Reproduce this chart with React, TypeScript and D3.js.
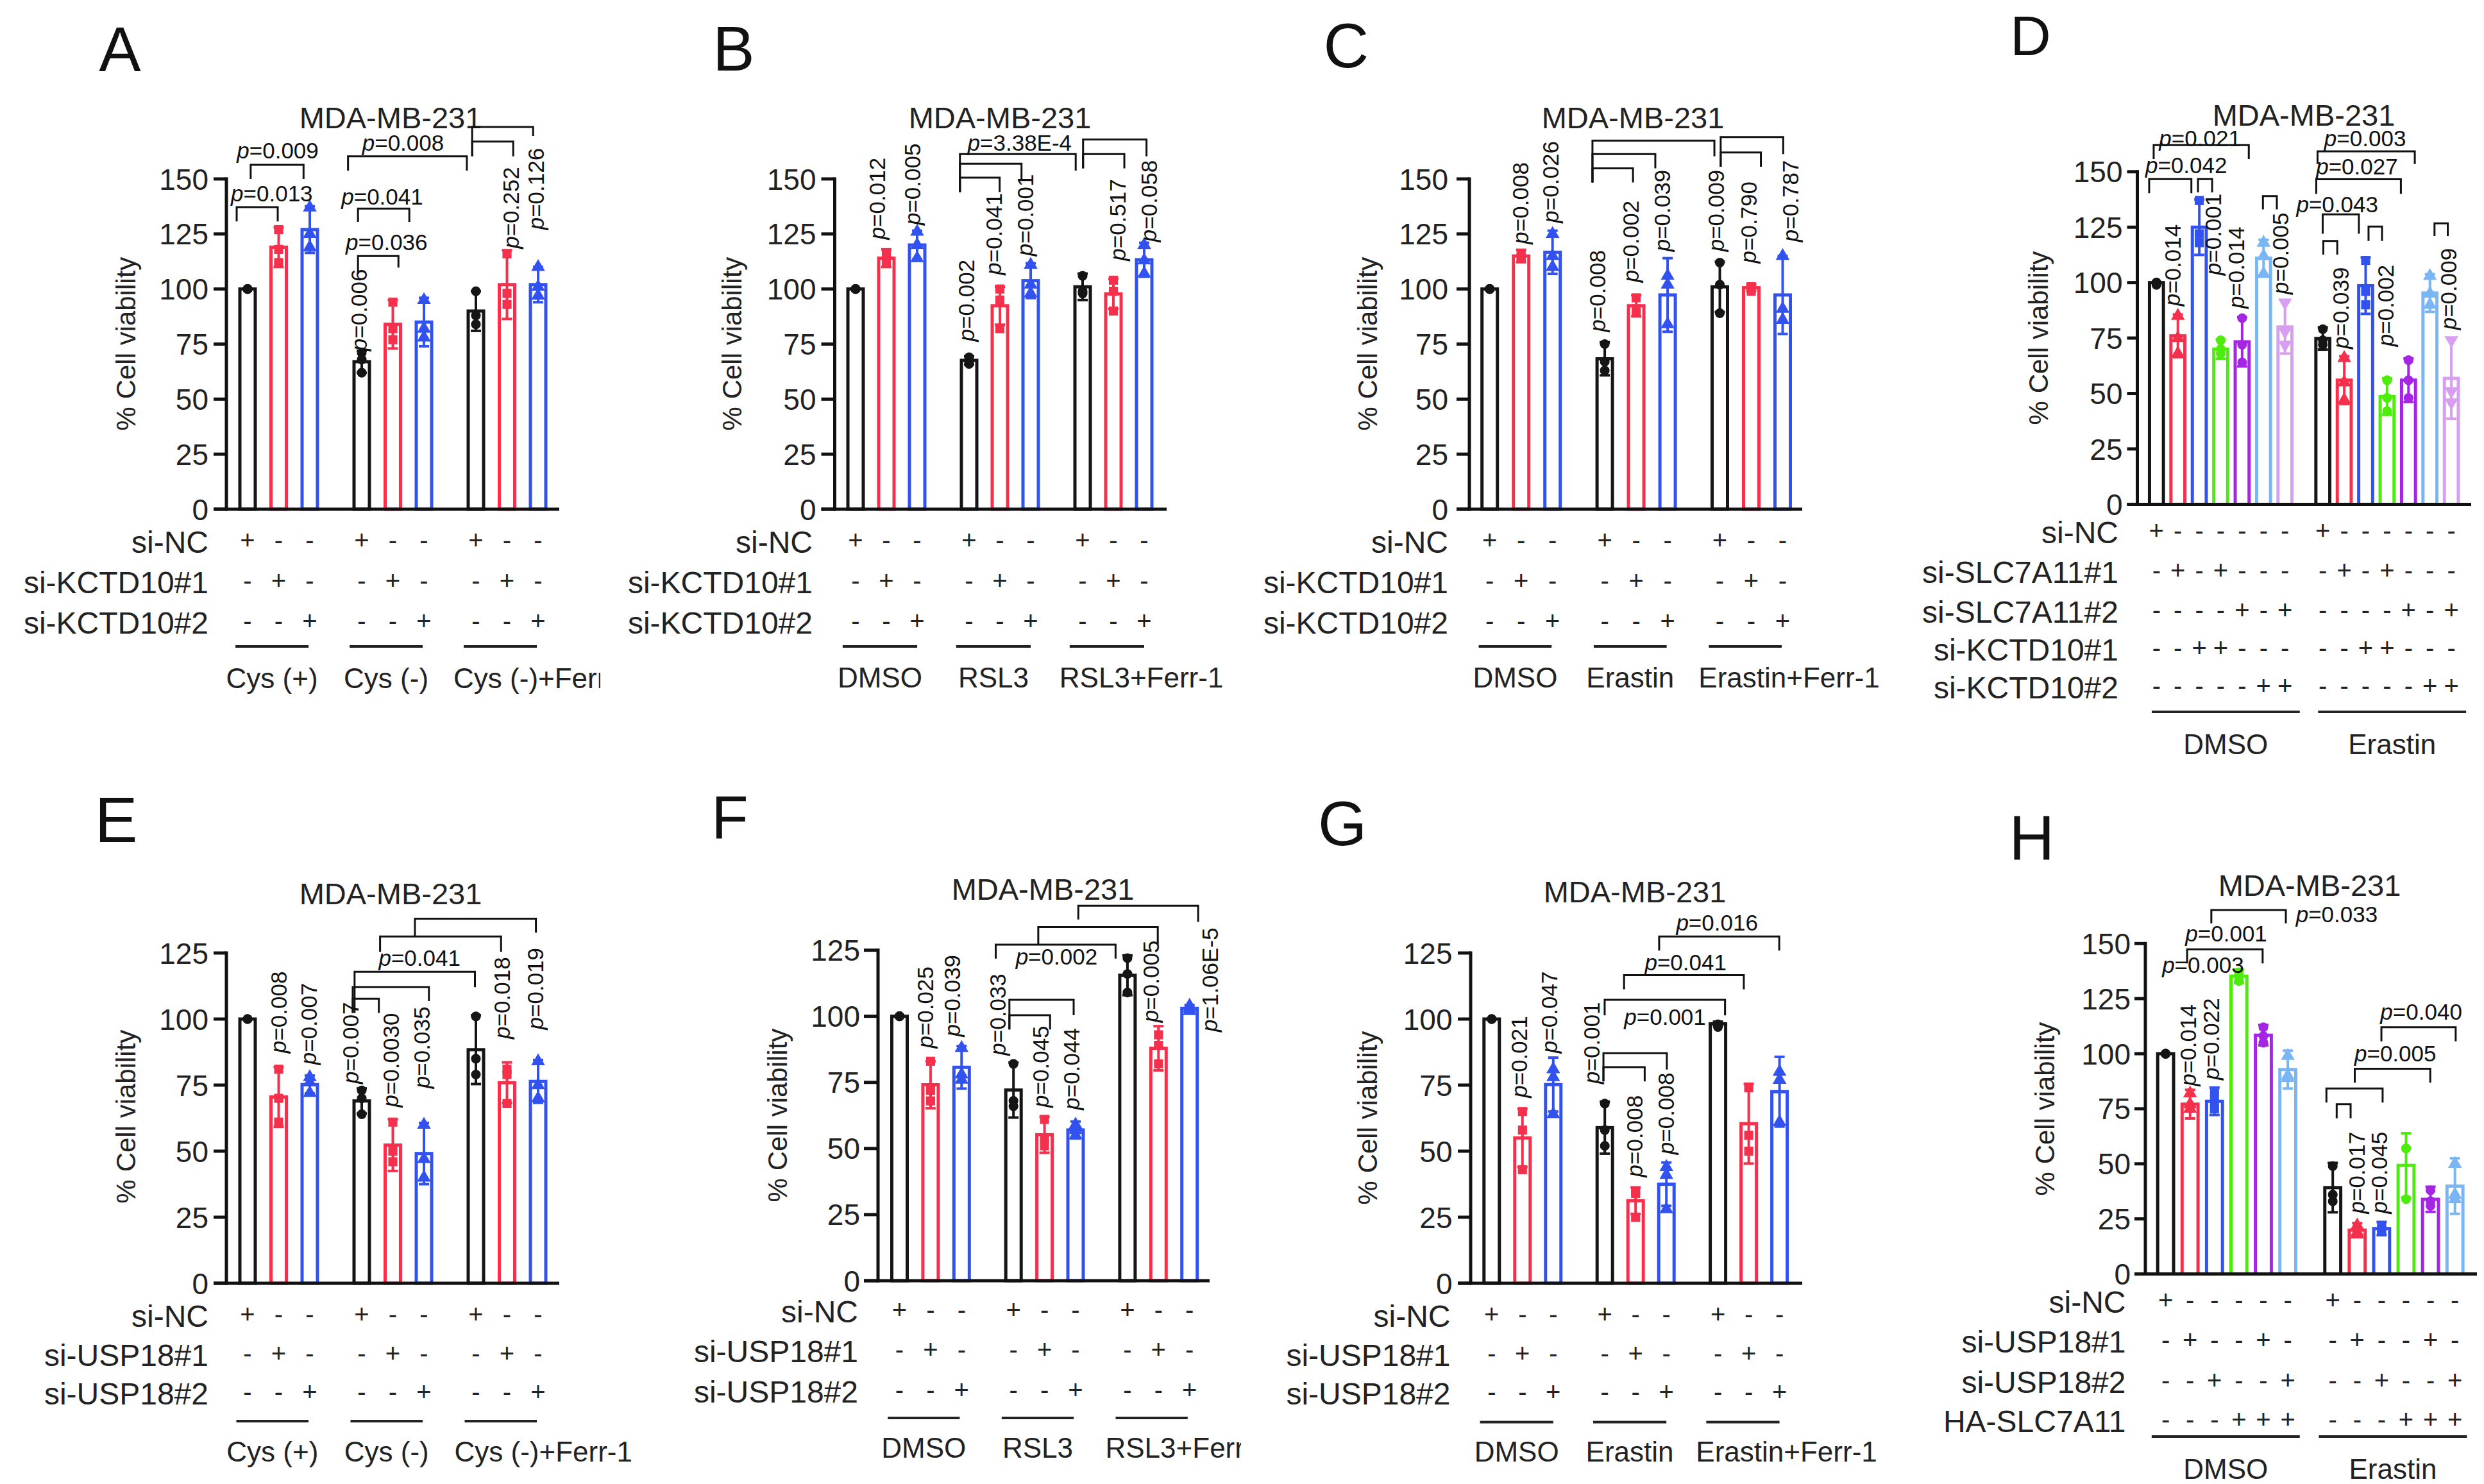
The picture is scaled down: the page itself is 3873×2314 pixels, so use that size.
import React from 'react';
import * as d3 from 'd3';

const FONT = "'Liberation Sans', Arial, Helvetica, sans-serif";
const BLACK = '#151515';
const RED = '#f5304c';
const BLUE = '#3252f0';
const GREEN = '#4eec0c';
const PURPLE = '#a426e4';
const LBLUE = '#7ab6f4';
const LPURPLE = '#d89ef0';

const C3 = [BLACK, RED, BLUE];
const S3 = ['circle', 'square', 'triangle'];
const C7 = [BLACK, RED, BLUE, GREEN, PURPLE, LBLUE, LPURPLE];
const S7 = ['circle', 'triangle', 'square', 'circle', 'circle', 'triangle', 'triangleDown'];
const C6 = [BLACK, RED, BLUE, GREEN, PURPLE, LBLUE];
const S6 = ['circle', 'triangle', 'square', 'circle', 'circle', 'triangle'];

const TITLE = 'MDA-MB-231';
const SIGNS3 = ['+--+--+--', '-+--+--+-', '--+--+--+'];

// ---------- Panel A ----------
const A_groups = ['Cys (+)', 'Cys (-)', 'Cys (-)+Ferr-1'];
const A_rows = ['si-NC', 'si-KCTD10#1', 'si-KCTD10#2'];
const A_means = [100, 119, 127, 67, 84, 85, 90, 102, 102];
const A_errTop = [100, 128, 137.6, 72, 95, 96, 99, 117.6, 110];
const A_points = [[100, 100, 100], [127, 118, 112], [137, 125, 119], [71, 68, 62], [94, 82, 77], [95, 82, 78], [99, 88, 84], [116, 98, 93], [110, 101, 97]];
const A_vtext = [['0.006', 3.64, 71.9], ['0.252', 8.54, 118.3], ['0.126', 9.34, 126.9]];
const A_htext = [['0.013', 0.78, 139.7], ['0.009', 0.97, 159.3], ['0.036', 4.47, 117.6], ['0.041', 4.33, 138.3], ['0.008', 5.0, 162.8]];
const A_brackets = [[-0.35, 0.97, 137.2, 130.7, 130.7], [0.1, 1.8, 156.4, 150, 150], [3.55, 4.85, 115, 107, 109.7], [3.55, 5.2, 136.5, 130.5, 130.5], [3.23, 7.05, 160.3, 153.8, 153.8], [7.22, 8.54, 167, 160.3, 160.3], [7.22, 9.18, 173.6, 160.3, 169.5]];

// ---------- Panel B ----------
const B_groups = ['DMSO', 'RSL3', 'RSL3+Ferr-1'];
const B_rows = ['si-NC', 'si-KCTD10#1', 'si-KCTD10#2'];
const B_means = [100, 114, 120, 67.6, 92.4, 103.8, 101, 97.8, 113.3];
const B_errTop = [100, 118, 126.5, 69.5, 101, 111.7, 107, 104.6, 121];
const B_points = [[100, 100, 100], [116, 113, 112], [126, 120, 114], [69, 67, 66], [100, 95, 82], [111, 102, 98], [106, 99, 98], [104, 99, 90], [120, 113, 107]];
const B_vtext = [['0.012', 0.77, 122.5], ['0.005', 1.92, 129], ['0.002', 3.67, 76.2], ['0.041', 4.55, 106.4], ['0.001', 5.57, 115], ['0.517', 8.58, 112.8], ['0.058', 9.59, 121.4]];
const B_htext = [['3.38E-4', 5.33, 162.8]];
const B_brackets = [[7.39, 9.45, 167.9, 154.8, 160.3], [7.39, 8.73, 161.3, 154.8, 154.8], [3.39, 7.15, 161.3, 144, 153.8], [3.39, 5.39, 156.9, 144, 149.5], [3.39, 4.68, 150.6, 144, 144]];

// ---------- Panel C ----------
const C_groups = ['DMSO', 'Erastin', 'Erastin+Ferr-1'];
const C_rows = ['si-NC', 'si-KCTD10#1', 'si-KCTD10#2'];
const C_means = [100, 115, 116.7, 68.3, 92.4, 97.3, 101, 100.6, 97.3];
const C_errTop = [100, 117.8, 126.5, 75.8, 97.2, 114, 112.4, 102, 115];
const C_points = [[100, 100, 100], [116, 114, 114], [125, 115, 110], [75, 67, 63], [96, 91, 90], [106, 102, 84], [112, 102, 89], [101, 101, 99], [115, 91, 86]];
const C_vtext = [['0.008', 1.04, 120.4], ['0.026', 2.0, 130], ['0.008', 3.5, 80.5], ['0.002', 4.56, 103], ['0.039', 5.56, 117], ['0.009', 7.27, 117], ['0.790', 8.3, 111.7], ['0.787', 9.63, 121.4]];
const C_htext = [];
const C_brackets = [[3.27, 7.15, 167.4, 148.4, 160.3], [3.27, 5.27, 161.3, 148.4, 154.8], [3.27, 4.56, 154.8, 148.4, 148.4], [7.35, 9.34, 169, 155.5, 161.3], [7.35, 8.63, 162, 155.5, 155.5]];

// ---------- Panel D ----------
const D_groups = ['DMSO', 'Erastin'];
const D_rows = ['si-NC', 'si-SLC7A11#1', 'si-SLC7A11#2', 'si-KCTD10#1', 'si-KCTD10#2'];
const D_signs = ['+------+------', '-+-+----+-+---', '----+-+----+-+', '--++-----++---', '-----++-----++'];
const D_means = [100, 76, 125, 70, 73.3, 111, 80, 74.8, 56, 98.6, 48.6, 56, 95.3, 56.8];
const D_errTop = [100, 85.6, 137.5, 74.3, 84.4, 119.3, 92, 79.8, 66.8, 111.3, 56.8, 65.8, 103.8, 75];
const D_points = [[100, 100, 99], [85, 75, 68], [137, 122, 118], [74, 70, 68], [84, 72, 64], [118, 112, 104], [91, 78, 72], [79, 74, 72], [66, 55, 47], [110, 96, 90], [56, 48, 42], [65, 56, 48], [103, 95, 90], [74, 51, 46]];
const D_vtext = [['0.014', 0.84, 89.4], ['0.001', 2.74, 103.3], ['0.014', 3.81, 88.3], ['0.005', 5.89, 94.7], ['0.039', 8.71, 70.1], ['0.002', 10.79, 71.2], ['0.009', 13.72, 78.7]];
const D_htext = [['0.021', 2.03, 161.5], ['0.042', 1.39, 149.3], ['0.003', 9.74, 161.6], ['0.027', 9.36, 148.9], ['0.043', 8.44, 131.8]];
const D_brackets = [[-0.13, 4.31, 162, 155.7, 155.7], [-0.34, 1.63, 146.7, 140.3, 140.3], [1.94, 2.6, 146.7, 140.7, 140.7], [4.97, 5.62, 139, 133, 133], [7.52, 12.06, 159.2, 153.5, 153.5], [7.46, 11.41, 146.6, 140, 140], [7.76, 9.45, 130.8, 122, 122], [7.79, 8.44, 118.8, 112.6, 112.6], [9.9, 10.53, 125.3, 118.8, 118.8], [12.98, 13.6, 126.7, 121, 121]];

// ---------- Panel E ----------
const E_groups = ['Cys (+)', 'Cys (-)', 'Cys (-)+Ferr-1'];
const E_rows = ['si-NC', 'si-USP18#1', 'si-USP18#2'];
const E_means = [100, 70.5, 75.2, 69, 52.3, 49.1, 88.4, 75.9, 76.4];
const E_errTop = [100, 81.8, 78.6, 73.75, 62.1, 60.7, 101.4, 83.6, 84.5];
const E_points = [[100, 100, 100], [81, 70, 61], [78, 76, 72], [73, 70, 64], [61, 50, 46], [60, 47, 40], [101, 85, 79], [81, 79, 68], [84, 75, 70]];
const E_vtext = [['0.008', 1.06, 87.1], ['0.007', 2.03, 82.7], ['0.007', 3.38, 75.5], ['0.0030', 4.67, 66.6], ['0.035', 5.67, 73.75], ['0.018', 8.25, 92.5], ['0.019', 9.31, 96]];
const E_htext = [['0.041', 5.53, 120.2]];
const E_brackets = [[5.38, 9.27, 138, 131.25, 132.7], [4.26, 8.15, 131.25, 125.5, 125.5], [3.44, 7.31, 117.9, 102.3, 112.1], [3.38, 5.83, 112.1, 102.3, 106.8], [3.38, 4.22, 107.7, 102.3, 102.3]];

// ---------- Panel F ----------
const F_groups = ['DMSO', 'RSL3', 'RSL3+Ferr-1'];
const F_rows = ['si-NC', 'si-USP18#1', 'si-USP18#2'];
const F_means = [100, 74.1, 80.7, 72.1, 55.2, 57, 115.5, 87.9, 103];
const F_errTop = [100, 83, 88.75, 82.5, 62, 60.2, 123, 96.25, 104.3];
const F_points = [[100, 100, 100], [83, 72, 68], [88, 78, 76], [82, 68, 66], [61, 54, 51], [59, 57, 55], [122, 116, 109], [93, 89, 82], [104, 103, 102]];
const F_vtext = [['0.025', 0.89, 87.9], ['0.039', 1.77, 92.3], ['0.033', 3.23, 85.2], ['0.045', 4.62, 65.5], ['0.044', 5.61, 64.6], ['0.005', 8.16, 97.7], ['1.06E-5', 10.06, 94.1]];
const F_htext = [['0.002', 5.06, 119.6]];
const F_brackets = [[5.76, 9.62, 141.8, 136.6, 135.7], [4.47, 8.32, 133.75, 127.1, 127.1], [3.1, 6.96, 127.1, 121.8, 121.8], [3.54, 5.61, 106.25, 95, 100.4], [3.54, 4.85, 100.4, 95, 95]];

// ---------- Panel G ----------
const G_groups = ['DMSO', 'Erastin', 'Erastin+Ferr-1'];
const G_rows = ['si-NC', 'si-USP18#1', 'si-USP18#2'];
const G_means = [100, 55, 75.2, 58.9, 31.25, 37.5, 98.2, 60.4, 72.5];
const G_errTop = [100, 66, 85.4, 68.75, 36.25, 45.7, 99, 75.5, 85.7];
const G_points = [[100, 100, 100], [65, 58, 43], [81, 78, 64], [68, 58, 52], [35, 34, 25], [44, 41, 28], [98, 98, 97], [74, 56, 50], [80, 77, 61]];
const G_vtext = [['0.021', 0.96, 70.2], ['0.047', 1.94, 87.1], ['0.001', 3.31, 75.5], ['0.008', 4.71, 40.2], ['0.008', 5.73, 48.75]];
const G_htext = [['0.016', 7.32, 133.6], ['0.041', 6.3, 118.4], ['0.001', 5.63, 97.9]];
const G_brackets = [[5.44, 9.34, 131.25, 125.9, 125.9], [4.3, 8.19, 116.6, 111.25, 111.25], [3.67, 7.58, 107.3, 101.4, 101.4], [3.63, 5.69, 87.1, 76.4, 80.9], [3.63, 4.97, 81.8, 76.4, 76.4]];

// ---------- Panel H ----------
const H_groups = ['DMSO', 'Erastin'];
const H_rows = ['si-NC', 'si-USP18#1', 'si-USP18#2', 'HA-SLC7A11'];
const H_signs = ['+-----+-----', '-+--+--+--+-', '--+--+--+--+', '---+++---+++'];
const H_means = [100, 77.1, 78.4, 135.2, 108.4, 92.8, 39.2, 19.9, 20.6, 49.3, 33.9, 39.9];
const H_errTop = [100, 83.6, 84.6, 138.2, 113, 101.4, 50.4, 23.1, 23.6, 63.9, 39.6, 52.5];
const H_points = [[100, 100, 100], [82, 77, 75], [82, 78, 75], [137, 135, 133], [112, 108, 105], [99, 90, 89], [49, 36, 33], [22, 19, 18], [22, 20, 20], [57, 57, 34], [38, 33, 31], [50, 36, 34]];
const H_vtext = [['0.014', 1.01, 85.3], ['0.022', 1.95, 88.1], ['0.017', 7.9, 27.4], ['0.045', 8.83, 27.4]];
const H_htext = [['0.033', 5.33, 159.6, 'start'], ['0.001', 2.48, 151], ['0.003', 1.53, 136.7], ['0.040', 10.46, 115.3], ['0.005', 9.4, 96.4]];
const H_brackets = [[1.87, 4.92, 165.2, 159.2, 159.2], [0.88, 3.97, 147.4, 141, 141], [8.83, 11.87, 112, 105.6, 105.6], [7.74, 10.83, 93.2, 86.8, 86.8], [6.58, 8.88, 84.2, 77.8, 77.8], [7.0, 7.57, 77.1, 70.7, 70.7]];

const rep = (arr: any[], n: number) => Array.from({ length: n }, () => arr).flat();

const panels = [
  { letter: 'A', groups: A_groups, rows: A_rows, signs: SIGNS3, means: A_means, errTop: A_errTop, points: A_points, vtext: A_vtext, htext: A_htext, brackets: A_brackets, colors: rep(C3, 3), shapes: rep(S3, 3), gsize: 3,
    L: { axisX: 353, xEnd: 872, bar1: 386, step: 48.5, extra: 32.5, barW: 29, y0: 794, yTop: 279, ymax: 150, tickLen: 20, labOff: 28, titleX: 609, titleY: 200, letterX: 187, letterY: 111, letterSize: 98, ylabX: 200, ylabY: 536, rowRight: 325, rowYs: [862, 925, 988], ulY: 1008, ul0: -0.39, ul1: -0.04, glY: 1073, lastStart: true, clipX: 936 } },
  { letter: 'B', groups: B_groups, rows: B_rows, signs: SIGNS3, means: B_means, errTop: B_errTop, points: B_points, vtext: B_vtext, htext: B_htext, brackets: B_brackets, colors: rep(C3, 3), shapes: rep(S3, 3), gsize: 3,
    L: { axisX: 1301.5, xEnd: 1819, bar1: 1334, step: 48, extra: 33, barW: 29, y0: 794, yTop: 279, ymax: 150, tickLen: 21, labOff: 29, titleX: 1559, titleY: 200, letterX: 1144, letterY: 110, letterSize: 98, ylabX: 1145, ylabY: 536, rowRight: 1267, rowYs: [862, 925, 988], ulY: 1008, ul0: -0.42, ul1: 0, glY: 1072, lastStart: true } },
  { letter: 'C', groups: C_groups, rows: C_rows, signs: SIGNS3, means: C_means, errTop: C_errTop, points: C_points, vtext: C_vtext, htext: C_htext, brackets: C_brackets, colors: rep(C3, 3), shapes: rep(S3, 3), gsize: 3,
    L: { axisX: 2291, xEnd: 2810, bar1: 2322.7, step: 49, extra: 32.4, barW: 29, y0: 794, yTop: 279, ymax: 150, tickLen: 20, labOff: 33, titleX: 2546, titleY: 200, letterX: 2099, letterY: 105, letterSize: 98, ylabX: 2136, ylabY: 536, rowRight: 2258, rowYs: [862, 925, 988], ulY: 1008, ul0: -0.35, ul1: -0.03, glY: 1072, lastStart: true } },
  { letter: 'D', groups: D_groups, rows: D_rows, signs: D_signs, means: D_means, errTop: D_errTop, points: D_points, vtext: D_vtext, htext: D_htext, brackets: D_brackets, colors: rep(C7, 2), shapes: rep(S7, 2), gsize: 7,
    L: { axisX: 3332.5, xEnd: 3853, bar1: 3362.3, step: 33.4, extra: 25.6, barW: 26.7, y0: 786.4, yTop: 267.8, ymax: 150, tickLen: 16, labOff: 23, titleX: 3592, titleY: 196, letterX: 3166, letterY: 86, letterSize: 88, ylabX: 3182, ylabY: 527, rowRight: 3303, rowYs: [847, 908.5, 970.6, 1029.8, 1089], ulY: 1110, ul0: -0.22, ul1: 0.69, glY: 1176 } },
  { letter: 'E', groups: E_groups, rows: E_rows, signs: SIGNS3, means: E_means, errTop: E_errTop, points: E_points, vtext: E_vtext, htext: E_htext, brackets: E_brackets, colors: rep(C3, 3), shapes: rep(S3, 3), gsize: 3,
    L: { axisX: 353, xEnd: 872, bar1: 386, step: 48.5, extra: 32.5, barW: 29, y0: 2001, yTop: 1486, ymax: 125, tickLen: 20, labOff: 28, titleX: 609, titleY: 1410, letterX: 181, letterY: 1313, letterSize: 100, ylabX: 200, ylabY: 1741, rowRight: 325, rowYs: [2069, 2130, 2190], ulY: 2216, ul0: -0.36, ul1: -0.04, glY: 2279, lastStart: true } },
  { letter: 'F', groups: F_groups, rows: F_rows, signs: SIGNS3, means: F_means, errTop: F_errTop, points: F_points, vtext: F_vtext, htext: F_htext, brackets: F_brackets, colors: rep(C3, 3), shapes: rep(S3, 3), gsize: 3,
    L: { axisX: 1369, xEnd: 1886, bar1: 1402.5, step: 48.4, extra: 32.5, barW: 29, y0: 1997, yTop: 1481.6, ymax: 125, tickLen: 22, labOff: 28, titleX: 1626, titleY: 1403, letterX: 1138, letterY: 1307, letterSize: 94, ylabX: 1216, ylabY: 1739, rowRight: 1338, rowYs: [2061.5, 2124, 2186.6], ulY: 2211, ul0: -0.38, ul1: -0.06, glY: 2273, lastStart: true, clipX: 1935 } },
  { letter: 'G', groups: G_groups, rows: G_rows, signs: SIGNS3, means: G_means, errTop: G_errTop, points: G_points, vtext: G_vtext, htext: G_htext, brackets: G_brackets, colors: rep(C3, 3), shapes: rep(S3, 3), gsize: 3,
    L: { axisX: 2293, xEnd: 2810, bar1: 2325.8, step: 48, extra: 32.4, barW: 29, y0: 2001, yTop: 1486, ymax: 125, tickLen: 20, labOff: 28.5, titleX: 2549, titleY: 1406.5, letterX: 2093, letterY: 1318, letterSize: 98, ylabX: 2136, ylabY: 1743, rowRight: 2261.5, rowYs: [2069, 2130, 2190.4], ulY: 2217.5, ul0: -0.38, ul1: 0, glY: 2279, lastStart: true } },
  { letter: 'H', groups: H_groups, rows: H_rows, signs: H_signs, means: H_means, errTop: H_errTop, points: H_points, vtext: H_vtext, htext: H_htext, brackets: H_brackets, colors: rep(C6, 2), shapes: rep(S6, 2), gsize: 6,
    L: { axisX: 3345, xEnd: 3862, bar1: 3376.6, step: 38.1, extra: 32, barW: 29.8, y0: 1986.5, yTop: 1471.3, ymax: 150, tickLen: 17, labOff: 23, titleX: 3601, titleY: 1397, letterX: 3168, letterY: 1340, letterSize: 98, ylabX: 3192, ylabY: 1729, rowRight: 3314.5, rowYs: [2046.8, 2109.4, 2172, 2233], ulY: 2240, ul0: -0.57, ul1: 0.49, glY: 2306 } },
];

const symbolTypes: Record<string, any> = {
  circle: d3.symbolCircle,
  square: d3.symbolSquare,
  triangle: d3.symbolTriangle,
  triangleDown: d3.symbolTriangle,
};

function PText({ v }: { v: string }) {
  return (
    <>
      <tspan fontStyle="italic">p</tspan>={v}
    </>
  );
}

function Panel({ d, idx }: { d: any; idx: number }) {
  const L = d.L;
  const gap = L.extra / L.step;
  const slotOf = (i: number) => i + Math.floor(i / d.gsize) * gap;
  const x = d3.scaleLinear().domain([0, 1]).range([L.bar1, L.bar1 + L.step]);
  const y = d3.scaleLinear().domain([0, L.ymax]).range([L.y0, L.yTop]);
  const ticks = d3.range(0, L.ymax + 0.1, 25);
  const bw = L.barW;
  const sw = 5;
  const capW = 16;
  const clipId = `clip${idx}`;
  const nBars = d.means.length;
  const nGroups = d.groups.length;

  return (
    <g fontFamily={FONT}>
      {L.clipX ? (
        <defs>
          <clipPath id={clipId}>
            <rect x={0} y={0} width={L.clipX} height={2314} />
          </clipPath>
        </defs>
      ) : null}
      {/* letter */}
      <text x={L.letterX} y={L.letterY} fontSize={L.letterSize} textAnchor="middle" fill="#111">{d.letter}</text>
      {/* title */}
      <text x={L.titleX} y={L.titleY} fontSize={47} textAnchor="middle" fill="#222">{TITLE}</text>
      {/* y label */}
      <text transform={`translate(${L.ylabX},${L.ylabY}) rotate(-90)`} fontSize={42} textAnchor="middle" dominantBaseline="middle" fill="#222">% Cell viability</text>

      {/* bars */}
      {d.means.map((m: number, i: number) => {
        const cx = x(slotOf(i));
        return (
          <rect key={'b' + i} x={cx - (bw - sw) / 2} y={y(m)} width={bw - sw} height={Math.max(0, L.y0 - y(m))}
            fill="#fff" stroke={d.colors[i]} strokeWidth={sw} />
        );
      })}
      {/* error bars */}
      {d.means.map((m: number, i: number) => {
        const cx = x(slotOf(i));
        const sd = d.errTop[i] - m;
        if (sd <= 0.3) return null;
        const yt = y(m + sd);
        const yb = y(m - sd);
        return (
          <g key={'e' + i} stroke={d.colors[i]} strokeWidth={4}>
            <line x1={cx} x2={cx} y1={yt} y2={yb} />
            <line x1={cx - capW / 2} x2={cx + capW / 2} y1={yt} y2={yt} />
            <line x1={cx - capW / 2} x2={cx + capW / 2} y1={yb} y2={yb} />
          </g>
        );
      })}
      {/* points */}
      {d.points.map((pts: number[], i: number) => {
        const cx = x(slotOf(i));
        const shape = d.shapes[i];
        const path = d3.symbol().type(symbolTypes[shape]).size(shape === 'circle' ? 180 : 200)();
        return pts.map((p: number, j: number) => (
          <path key={'p' + i + '_' + j} d={path as string}
            transform={`translate(${cx},${y(p)})${shape === 'triangleDown' ? ' rotate(180)' : ''}`}
            fill={d.colors[i]} />
        ));
      })}

      {/* axes */}
      <g stroke="#111" strokeWidth={5} fill="none">
        <line x1={L.axisX} x2={L.axisX} y1={L.y0 + 2.5} y2={L.yTop - 2.5} />
        <line x1={L.axisX - L.tickLen} x2={L.xEnd} y1={L.y0} y2={L.y0} />
        {ticks.map((t: number) => (
          <line key={'t' + t} x1={L.axisX - L.tickLen} x2={L.axisX} y1={y(t)} y2={y(t)} />
        ))}
      </g>
      {ticks.map((t: number) => (
        <text key={'tl' + t} x={L.axisX - L.labOff} y={y(t)} dy="0.36em" fontSize={46} textAnchor="end" fill="#222">{t}</text>
      ))}

      {/* brackets */}
      <g stroke="#111" strokeWidth={3} fill="none">
        {d.brackets.map((b: number[], i: number) => (
          <path key={'br' + i} d={`M${x(b[0])},${y(b[3])}V${y(b[2])}H${x(b[1])}V${y(b[4])}`} />
        ))}
      </g>
      {/* p-values vertical */}
      {d.vtext.map((t: any[], i: number) => (
        <text key={'vt' + i} transform={`translate(${x(t[1])},${y(t[2])}) rotate(-90)`} fontSize={35} dominantBaseline="middle" fill="#111">
          <PText v={t[0]} />
        </text>
      ))}
      {/* p-values horizontal */}
      {d.htext.map((t: any[], i: number) => (
        <text key={'ht' + i} x={x(t[1])} y={y(t[2])} fontSize={35} textAnchor={t[3] || 'middle'} fill="#111">
          <PText v={t[0]} />
        </text>
      ))}

      {/* row labels and signs */}
      {d.rows.map((r: string, ri: number) => (
        <g key={'r' + ri}>
          <text x={L.rowRight} y={L.rowYs[ri]} fontSize={48} textAnchor="end" fill="#222">{r}</text>
          {d.signs[ri].split('').map((s: string, i: number) => (
            <text key={'s' + i} x={x(slotOf(i))} y={L.rowYs[ri] - 6} fontSize={40} textAnchor="middle" fill="#222">{s === '-' ? '-' : '+'}</text>
          ))}
        </g>
      ))}

      {/* group underlines and labels */}
      {d.groups.map((g: string, gi: number) => {
        const first = gi * d.gsize;
        const last = Math.min(nBars - 1, first + d.gsize - 1);
        const xa = x(slotOf(first) + L.ul0);
        const xb = x(slotOf(last) + L.ul1);
        const isStart = L.lastStart && gi === nGroups - 1;
        return (
          <g key={'g' + gi}>
            <line x1={xa} x2={xb} y1={L.ulY} y2={L.ulY} stroke="#222" strokeWidth={4} />
            <text x={isStart ? xa - 16 : (xa + xb) / 2} y={L.glY} fontSize={44} textAnchor={isStart ? 'start' : 'middle'} fill="#222"
              clipPath={L.clipX ? `url(#${clipId})` : undefined}>{g}</text>
          </g>
        );
      })}
    </g>
  );
}

export default function App() {
  return (
    <svg width={3873} height={2314} viewBox="0 0 3873 2314"
      style={{ position: 'absolute', left: 0, top: 0, background: '#fff' }}>
      <rect x={0} y={0} width={3873} height={2314} fill="#fff" />
      {panels.map((p, i) => <Panel key={p.letter} d={p} idx={i} />)}
    </svg>
  );
}
